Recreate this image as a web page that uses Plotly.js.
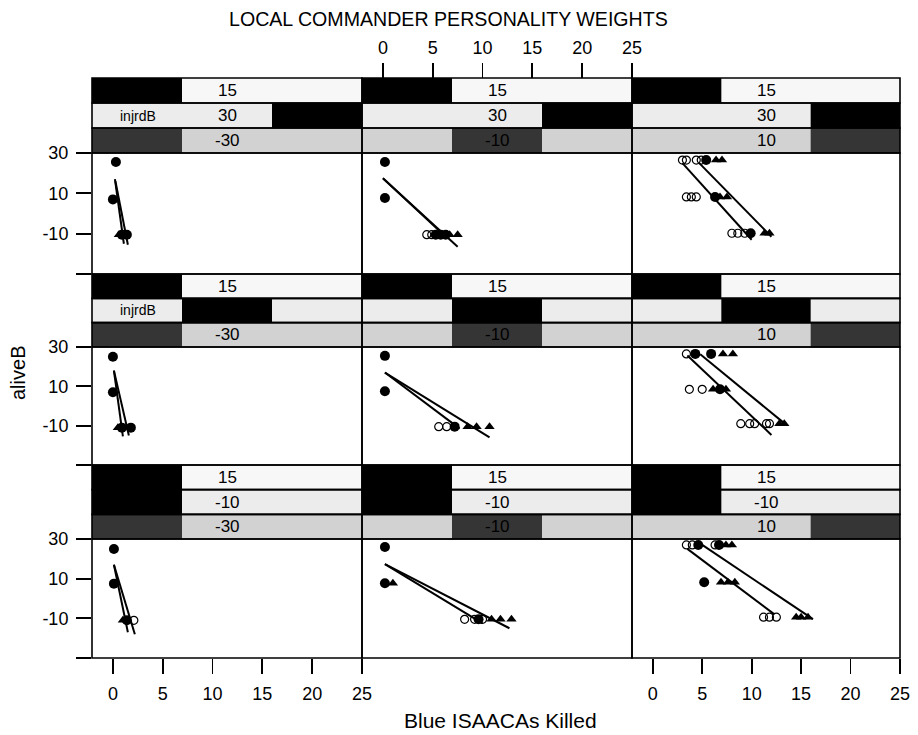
<!DOCTYPE html>
<html>
<head>
<meta charset="utf-8">
<script src="https://cdn.plot.ly/plotly-3.0.1.min.js"></script>
<style>html,body{margin:0;padding:0;background:#fff;}#chart{width:918px;height:735px;}</style>
</head>
<body>
<div id="chart"></div>
<script>
// ---------------- DATA (panels ordered row by row: top-left ... bottom-right) ----------------
const xTickVals = [0, 5, 10, 15, 20, 25];
const yTickVals = [30, 10, -10, -30];
const yTickText = ['30', '10', '-10', ''];

// strip (conditioning) values
const strip1Text = '15';                 // top strip, same in every panel
const strip1Level = 0;
const strip2Name = 'injrdB';
const strip2Text = ['30', '10', '-10'];  // by row
const strip2Level = [2, 1, 0];
const strip3Text = ['-30', '-10', '10']; // by column
const strip3Level = [0, 1, 2];

// filled circles
const filledX = [
  [0.3, 0.0, 0.9, 1.4],
  [0.2, 0.2, 5.3, 5.8, 6.3],
  [5.4, 6.3, 9.9],
  [0.0, 0.0, 0.9, 1.8],
  [0.2, 0.2, 7.2],
  [4.3, 5.9, 6.8],
  [0.1, 0.1, 1.4],
  [0.2, 0.2, 9.6],
  [4.6, 6.7, 5.2]
];
const filledY = [
  [25.5, 7, -10.5, -10.5],
  [25.5, 7.7, -10.5, -10.5, -10.5],
  [26.5, 8.2, -9.8],
  [25, 7, -11, -11],
  [25.5, 7.5, -10.5],
  [26.5, 26.5, 8.5],
  [25, 7.5, -11],
  [26, 7.7, -10.5],
  [27, 27, 8.2]
];
// open circles
const openX = [
  [],
  [4.4, 4.9],
  [3.0, 3.4, 4.4, 4.9, 3.4, 3.9, 4.4, 8.0, 8.6, 9.3],
  [],
  [5.6, 6.4],
  [3.4, 3.7, 5.0, 8.9, 9.8, 10.3, 11.5, 11.8],
  [2.1],
  [8.2, 9.2, 10.0],
  [3.4, 4.0, 6.3, 11.2, 11.8, 12.5]
];
const openY = [
  [],
  [-10.5, -10.5],
  [26.5, 26.5, 26.5, 26.5, 8.2, 8.2, 8.2, -9.8, -9.8, -9.8],
  [],
  [-10.5, -10.5],
  [26.5, 8.5, 8.5, -9, -9, -9, -9, -9],
  [-11],
  [-10.5, -10.5, -10.5],
  [27, 27, 27, -9.4, -9.4, -9.4]
];
// filled triangles
const triX = [
  [0.6],
  [6.7, 7.5],
  [6.4, 7.0, 6.8, 7.5, 11.3, 11.8],
  [0.5],
  [8.5, 9.4, 10.7],
  [7.1, 8.1, 6.1, 7.4, 12.8, 13.3],
  [1.0],
  [1.0, 10.9, 11.8, 12.9],
  [7.4, 8.0, 6.9, 7.6, 8.3, 14.5, 15.0, 15.7]
];
const triY = [
  [-10.5],
  [-10.5, -10.5],
  [26.5, 26.5, 8.2, 8.2, -9.8, -9.8],
  [-11],
  [-10.5, -10.5, -10.5],
  [26.5, 26.5, 8.5, 8.5, -9, -9],
  [-11],
  [7.7, -10.5, -10.5, -10.5],
  [27, 27, 8.2, 8.2, 8.2, -9.4, -9.4, -9.4]
];
// fitted lines (end points)
const fit1X = [[0.2, 1.1], [0, 6.2], [3.0, 10.0], [0.1, 1.0], [0.2, 7.7], [3.5, 12.0], [0.1, 1.5], [0.2, 10.0], [3.5, 12.3]];
const fit1Y = [[17, -15], [17.5, -11], [25, -13], [18, -15.5], [17, -11.5], [25.7, -14.7], [17, -17], [17.3, -12.5], [25, -8]];
const fit2X = [[0.25, 1.5], [0, 7.5], [4.7, 12.0], [0.1, 1.6], [0.2, 10.7], [4.8, 13.5], [0.1, 2.2], [0.2, 12.7], [5.0, 16.2]];
const fit2Y = [[16, -15.5], [17.5, -16.5], [25, -11.5], [18, -15], [17, -16], [26.3, -9.6], [17, -18], [17.3, -15], [27, -10.4]];

// ---------------- LAYOUT GEOMETRY ----------------
const W = 918, H = 735;
const colL = [92, 362, 632], colR = [362, 632, 900];
const stripTop = [78, 274, 465], panelTop = [153, 347, 539], panelBot = [274, 465, 658];
const FONT = '"Liberation Sans", Arial, Helvetica, sans-serif';
const py = p => 1 - p / H;

const traces = [];
const layout = {
  width: W, height: H, margin: {l: 0, r: 0, t: 0, b: 0},
  paper_bgcolor: '#fff', plot_bgcolor: '#fff', showlegend: false,
  font: {family: FONT, color: '#000', size: 18},
  shapes: [], annotations: []
};

for (let r = 0; r < 3; r++) {
  for (let c = 0; c < 3; c++) {
    const i = r * 3 + c, k = i + 1;
    const xa = 'x' + (k === 1 ? '' : k), ya = 'y' + (k === 1 ? '' : k);
    const xk = 'xaxis' + (k === 1 ? '' : k), yk = 'yaxis' + (k === 1 ? '' : k);
    const xAx = {
      domain: [colL[c] / W, colR[c] / W], range: [-2.1, 25], anchor: ya,
      showgrid: false, zeroline: false, showline: false, fixedrange: true,
      showticklabels: false, ticks: ''
    };
    if (r === 2 && c !== 1) {
      Object.assign(xAx, {ticks: 'outside', ticklen: 15, tickwidth: 1.8, tickcolor: '#000',
        tickvals: xTickVals, showticklabels: true, tickfont: {size: 18}, ticklabelstandoff: 4});
    }
    if (r === 0 && c === 1) {
      Object.assign(xAx, {side: 'top', anchor: 'free', position: py(stripTop[0]),
        ticks: 'outside', ticklen: 15, tickwidth: 1.8, tickcolor: '#000',
        tickvals: xTickVals, showticklabels: true, tickfont: {size: 18}, ticklabelstandoff: 2});
    }
    const yAx = {
      domain: [py(panelBot[r]), py(panelTop[r])], range: [-30, 30], anchor: xa,
      showgrid: false, zeroline: false, showline: false, fixedrange: true,
      showticklabels: false, ticks: ''
    };
    if (c === 0) {
      Object.assign(yAx, {ticks: 'outside', ticklen: 15, tickwidth: 1.8, tickcolor: '#000',
        tickvals: yTickVals, ticktext: yTickText, showticklabels: true, tickfont: {size: 18}, ticklabelstandoff: 4});
    }
    layout[xk] = xAx; layout[yk] = yAx;

    // data
    traces.push({x: fit1X[i], y: fit1Y[i], xaxis: xa, yaxis: ya, mode: 'lines', line: {color: '#000', width: 2}, hoverinfo: 'skip'});
    traces.push({x: fit2X[i], y: fit2Y[i], xaxis: xa, yaxis: ya, mode: 'lines', line: {color: '#000', width: 2}, hoverinfo: 'skip'});
    traces.push({x: openX[i], y: openY[i], xaxis: xa, yaxis: ya, mode: 'markers',
      marker: {symbol: 'circle-open', size: 8, color: '#000', line: {width: 1.2}}});
    traces.push({x: filledX[i], y: filledY[i], xaxis: xa, yaxis: ya, mode: 'markers',
      marker: {symbol: 'circle', size: 10, color: '#000'}});
    traces.push({x: triX[i], y: triY[i], xaxis: xa, yaxis: ya, mode: 'markers',
      marker: {symbol: 'triangle-up', size: 9, color: '#000'}});

    // panel border
    layout.shapes.push({type: 'rect', xref: xa + ' domain', yref: ya + ' domain', x0: 0, x1: 1, y0: 0, y1: 1,
      line: {color: '#000', width: 1.6}, fillcolor: 'rgba(0,0,0,0)'});

    // strips
    const h = (panelTop[r] - stripTop[r]) / 3;
    const lightCol = ['#f7f7f7', '#ececec', '#d2d2d2'];
    const darkCol = ['#000', '#000', '#353535'];
    const lev = [strip1Level, strip2Level[r], strip3Level[c]];
    const txt = [strip1Text, strip2Text[r], strip3Text[c]];
    for (let s = 0; s < 3; s++) {
      const t = stripTop[r] + s * h, b = t + h;
      layout.shapes.push({type: 'rect', xref: xa + ' domain', yref: 'paper', x0: 0, x1: 1, y0: py(b), y1: py(t),
        line: {width: 0}, fillcolor: lightCol[s], layer: 'below'});
      layout.shapes.push({type: 'rect', xref: xa + ' domain', yref: 'paper', x0: lev[s] / 3, x1: (lev[s] + 1) / 3,
        y0: py(b), y1: py(t), line: {width: 0}, fillcolor: darkCol[s], layer: 'below'});
      layout.shapes.push({type: 'rect', xref: xa + ' domain', yref: 'paper', x0: 0, x1: 1, y0: py(b), y1: py(t),
        line: {color: '#000', width: 1.6}, fillcolor: 'rgba(0,0,0,0)'});
      layout.annotations.push({xref: xa + ' domain', yref: 'paper', x: 0.5, y: py((t + b) / 2),
        xanchor: 'center', yanchor: 'middle', text: txt[s], showarrow: false, font: {size: 17, color: '#000'}});
      if (s === 1 && c === 0) {
        layout.annotations.push({xref: xa + ' domain', yref: 'paper', x: 0.17, y: py((t + b) / 2),
          xanchor: 'center', yanchor: 'middle', text: strip2Name, showarrow: false, font: {size: 14, color: '#000'}});
      }
    }
  }
}

// titles
layout.annotations.push({xref: 'paper', yref: 'paper', x: 448 / W, y: py(19), xanchor: 'center', yanchor: 'middle',
  text: 'LOCAL COMMANDER PERSONALITY WEIGHTS', showarrow: false, font: {size: 19.6}});
layout.annotations.push({xref: 'paper', yref: 'paper', x: 18 / W, y: py(373), xanchor: 'center', yanchor: 'middle',
  text: 'aliveB', textangle: -90, showarrow: false, font: {size: 20}});
layout.annotations.push({xref: 'paper', yref: 'paper', x: 501 / W, y: py(720), xanchor: 'center', yanchor: 'middle',
  text: 'Blue ISAACAs Killed', showarrow: false, font: {size: 21}});

Plotly.newPlot('chart', traces, layout, {staticPlot: true, displayModeBar: false});
</script>
</body>
</html>
